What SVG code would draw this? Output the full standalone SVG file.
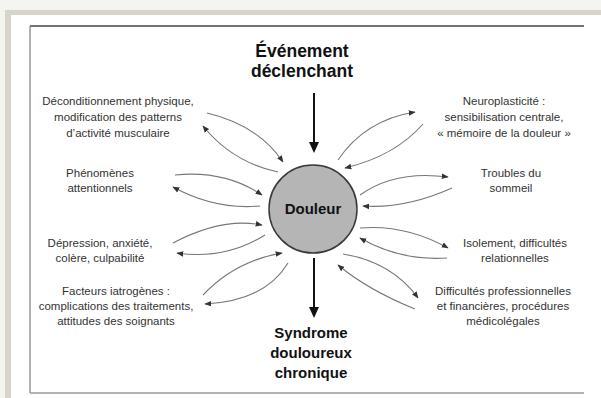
<svg xmlns="http://www.w3.org/2000/svg" width="601" height="398" viewBox="0 0 601 398">
<defs>
<style>
.lbl{font-family:"Liberation Sans",Arial,sans-serif;font-size:11.5px;fill:#333;text-anchor:middle}
.ttl{font-family:"Liberation Sans",Arial,sans-serif;font-weight:bold;fill:#111;text-anchor:middle}
.c{fill:none;stroke:#777;stroke-width:1.1;marker-end:url(#ah)}
.big{stroke:#111;stroke-width:2}
</style>
<marker id="ah" viewBox="0 0 10 10" refX="9" refY="5" markerWidth="7" markerHeight="7" markerUnits="userSpaceOnUse" orient="auto">
<path d="M0,1 L10,5 L0,9 z" fill="#333"/>
</marker>
</defs>
<rect x="0" y="0" width="601" height="398" fill="#f4f4f0"/>
<rect x="5" y="10" width="596" height="388" fill="#d7d4cc"/>
<rect x="11" y="15" width="590" height="383" fill="#ffffff"/>
<line x1="30" y1="26" x2="584" y2="26" stroke="#444" stroke-width="1.5"/>
<line x1="30" y1="26" x2="30" y2="393" stroke="#666" stroke-width="1"/>
<line x1="30" y1="393" x2="584" y2="393" stroke="#999" stroke-width="1.5"/>

<g id="evenement">
<text class="ttl" x="302" y="57" font-size="17.5">Événement</text>
<text class="ttl" x="302" y="77" font-size="17.5">déclenchant</text>
</g>
<g id="douleur">
<circle cx="313" cy="209" r="44" fill="#b5b5b5" stroke="#3a3a3a" stroke-width="1.5"/>
<text class="ttl" x="313" y="214" font-size="15">Douleur</text>
</g>
<g id="syndrome">
<text class="ttl" x="311" y="338" font-size="15">Syndrome</text>
<text class="ttl" x="311" y="358" font-size="15">douloureux</text>
<text class="ttl" x="311" y="378" font-size="15">chronique</text>
</g>

<g id="deconditionnement">
<text class="lbl" x="118" y="105">Déconditionnement physique,</text>
<text class="lbl" x="118" y="121">modification des patterns</text>
<text class="lbl" x="118" y="137">d’activité musculaire</text>
</g>
<g id="phenomenes">
<text class="lbl" x="100" y="177">Phénomènes</text>
<text class="lbl" x="100" y="192">attentionnels</text>
</g>
<g id="depression">
<text class="lbl" x="100" y="247">Dépression, anxiété,</text>
<text class="lbl" x="100" y="262">colère, culpabilité</text>
</g>
<g id="facteurs">
<text class="lbl" x="116" y="295">Facteurs iatrogènes :</text>
<text class="lbl" x="116" y="310">complications des traitements,</text>
<text class="lbl" x="116" y="325">attitudes des soignants</text>
</g>
<g id="neuroplasticite">
<text class="lbl" x="504" y="105">Neuroplasticité :</text>
<text class="lbl" x="504" y="121">sensibilisation centrale,</text>
<text class="lbl" x="504" y="137">« mémoire de la douleur »</text>
</g>
<g id="troubles">
<text class="lbl" x="511" y="177">Troubles du</text>
<text class="lbl" x="511" y="192">sommeil</text>
</g>
<g id="isolement">
<text class="lbl" x="515" y="247">Isolement, difficultés</text>
<text class="lbl" x="515" y="262">relationnelles</text>
</g>
<g id="difficultes">
<text class="lbl" x="503" y="295">Difficultés professionnelles</text>
<text class="lbl" x="503" y="310">et financières, procédures</text>
<text class="lbl" x="503" y="325">médicolégales</text>
</g>

<g id="connectors">
<line class="big" x1="314" y1="93" x2="314" y2="144"/>
<polygon points="309,142 319,142 314,153" fill="#111"/>
<line class="big" x1="314" y1="258" x2="314" y2="309"/>
<polygon points="309,307 319,307 314,318" fill="#111"/>

<path class="c" d="M207,113 Q258,125 283,162"/>
<path class="c" d="M278,172 Q232,162 203,126"/>
<path class="c" d="M175,175 Q225,170 262,195"/>
<path class="c" d="M260,206 Q215,210 173,187"/>
<path class="c" d="M173,243 Q222,217 262,225"/>
<path class="c" d="M265,235 Q225,260 177,253"/>
<path class="c" d="M203,295 Q235,261 282,253"/>
<path class="c" d="M288,263 Q265,301 205,304"/>

<path class="c" d="M338,160 Q365,120 415,112"/>
<path class="c" d="M423,124 Q395,156 345,168"/>
<path class="c" d="M360,195 Q395,170 448,177"/>
<path class="c" d="M452,188 Q405,209 363,206"/>
<path class="c" d="M360,228 Q405,224 448,248"/>
<path class="c" d="M447,258 Q400,261 360,238"/>
<path class="c" d="M343,254 Q392,262 418,298"/>
<path class="c" d="M415,309 Q368,290 338,265"/>
</g>
</svg>
